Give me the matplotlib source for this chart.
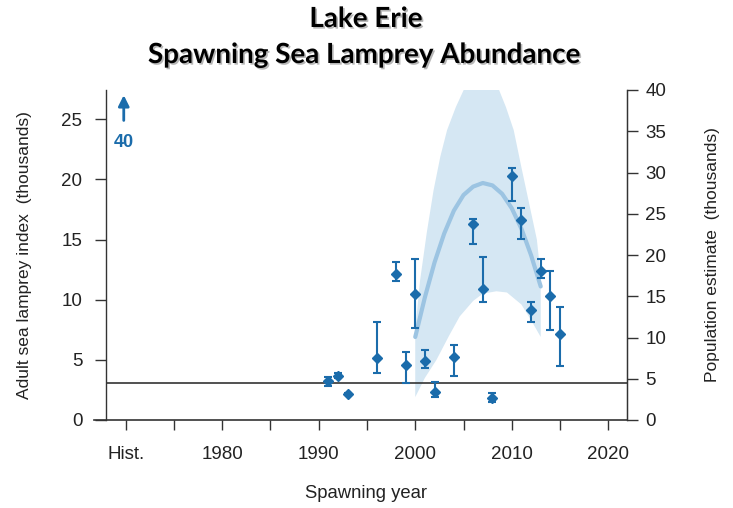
import matplotlib
matplotlib.use("Agg")
import matplotlib.pyplot as plt
import matplotlib.patheffects as pe
import numpy as np

# ---- data (thousands, left-axis index units) ----
years = [1991, 1992, 1993, 1996, 1998, 1999, 2000, 2001, 2002, 2004,
         2006, 2007, 2008, 2010, 2011, 2012, 2013, 2014, 2015]
index_vals = [3.24, 3.68, 2.20, 5.18, 12.11, 4.54, 10.45, 4.87, 2.30, 5.21,
              16.29, 10.89, 1.80, 20.31, 16.63, 9.14, 12.41, 10.33, 7.12]
index_lo = [2.85, 3.50, 2.12, 3.88, 11.55, 3.10, 7.67, 4.30, 1.89, 3.66,
            14.63, 9.78, 1.52, 18.20, 15.05, 8.12, 11.83, 7.48, 4.51]
index_hi = [3.60, 3.88, 2.28, 8.12, 13.10, 5.68, 13.38, 5.82, 3.18, 6.23,
            16.70, 13.58, 2.22, 20.97, 17.60, 9.78, 13.38, 12.41, 9.37]

fit_years = [2000, 2001, 2002, 2003, 2004, 2005, 2006, 2007, 2008, 2009,
             2010, 2011, 2012, 2013]
fit_vals = [6.9, 10.2, 13.1, 15.5, 17.4, 18.7, 19.4, 19.7, 19.5, 18.8,
            17.6, 15.9, 13.7, 11.1]

band_years = [2000, 2000.5, 2001.2, 2001.9, 2002.6, 2003.3, 2004.2, 2005.0,
              2006.5, 2007.5, 2008.6, 2009.4, 2010.2, 2011.0, 2011.8,
              2012.6, 2013]
band_upper = [7.5, 11.6, 15.6, 19.1, 21.9, 24.1, 26.0, 27.4,
              30.0, 30.0, 27.6, 26.0, 24.1, 21.0, 18.0, 15.0, 12.0]
band_lo_years = [2000, 2001, 2002.2, 2003.5, 2004.6, 2006, 2007, 2008.4,
                 2009.5, 2011, 2012, 2013]
band_lower = [1.9, 3.5, 5.0, 7.0, 8.6, 9.9, 10.5, 10.7, 10.6, 9.6, 8.3, 6.9]

target = 3.08
hist_value_label = "40"

x_ticks = [1970, 1975, 1980, 1985, 1990, 1995, 2000, 2005, 2010, 2015, 2020]
x_labels = ["Hist.", "", "1980", "", "1990", "", "2000", "", "2010", "", "2020"]
left_ticks = [0, 5, 10, 15, 20, 25]
right_ticks = [0, 5, 10, 15, 20, 25, 30, 35, 40]

# ---- style ----
blue = "#1b6cab"
band_color = "#d5e7f3"
fit_color = "#9cc4e2"
axis_col = "#333333"
text_col = "#222222"

fig = plt.figure(figsize=(7.33, 5.08), dpi=100)
ax = fig.add_axes([106 / 733, 88 / 508, (627.3 - 106) / 733, 330 / 508])
ax.set_xlim(1967.96, 2021.97)
ax.set_ylim(0, 27.43)

# band
bx = np.concatenate([band_years, band_lo_years[::-1]])
by = np.concatenate([band_upper, band_lower[::-1]])
ax.fill(bx, by, color=band_color, lw=0, zorder=1)
ax.plot(fit_years, fit_vals, color=fit_color, lw=3, solid_capstyle="round", zorder=2)

ax.axhline(target, color="#333333", lw=1.2, zorder=3)

yv = np.array(index_vals)
ax.errorbar(years, yv, yerr=[yv - np.array(index_lo), np.array(index_hi) - yv],
            fmt="D", ms=4.6, color=blue, ecolor=blue, elinewidth=1.5,
            capsize=2.8, capthick=1.5, zorder=4)

# hist arrow
ax.annotate("", xy=(1969.8, 27.0), xytext=(1969.8, 24.9),
            arrowprops=dict(arrowstyle="-|>", color=blue, lw=2,
                            mutation_scale=16, shrinkA=0, shrinkB=0))
ax.text(1969.8, 23.1, hist_value_label, color=blue, fontsize=13,
        fontweight="bold", ha="center", va="center", family="Liberation Sans")

# spines
for s in ["top", "bottom"]:
    ax.spines[s].set_visible(False)
for s in ["left", "right"]:
    ax.spines[s].set_color(axis_col)
    ax.spines[s].set_linewidth(1.0)
ax.plot([1966.75, 2021.97], [0, 0], color=axis_col, lw=1.2, clip_on=False, zorder=5)

ax.set_xticks(x_ticks)
ax.set_xticklabels(x_labels)
ax.set_yticks(left_ticks)
ax.tick_params(axis="x", length=7, width=1, color=axis_col, pad=12,
               labelsize=13.5, labelcolor=text_col)
ax.tick_params(axis="y", length=8, width=1, color=axis_col, pad=9,
               labelsize=13.5, labelcolor=text_col)
for lab in ax.get_xticklabels() + ax.get_yticklabels():
    lab.set_family("Liberation Sans")

ax2 = ax.twinx()
ax2.set_ylim(0, 40)
ax2.set_yticks(right_ticks)
for s in ["top", "bottom", "left"]:
    ax2.spines[s].set_visible(False)
ax2.spines["right"].set_color(axis_col)
ax2.tick_params(axis="y", length=8, width=1, color=axis_col, pad=5,
                labelsize=13.5, labelcolor=text_col)
for lab in ax2.get_yticklabels():
    lab.set_family("Liberation Sans")

fig.text(25 / 733, 1 - 255 / 508, "Adult sea lamprey index  (thousands)",
         rotation=90, ha="center", va="center", fontsize=12.5,
         color=text_col, family="Liberation Sans")
fig.text(712 / 733, 1 - 255 / 508, "Population estimate  (thousands)",
         rotation=90, ha="center", va="center", fontsize=12.5,
         color=text_col, family="Liberation Sans")
fig.text(366 / 733, 1 - 494 / 508, "Spawning year", ha="center", va="center",
         fontsize=13.3, color=text_col, family="Liberation Sans")

shadow = [pe.withSimplePatchShadow(offset=(1.2, -1.2), shadow_rgbFace="#888888", alpha=0.6)]
fig.text(366 / 733, 1 - 19 / 508, "Lake Erie", ha="center", va="center",
         fontsize=20, fontweight="bold", family="Lato", path_effects=shadow)
fig.text(364 / 733, 1 - 55 / 508, "Spawning Sea Lamprey Abundance", ha="center",
         va="center", fontsize=20, fontweight="bold", family="Lato", path_effects=shadow)

fig.savefig("out.png", dpi=100)
